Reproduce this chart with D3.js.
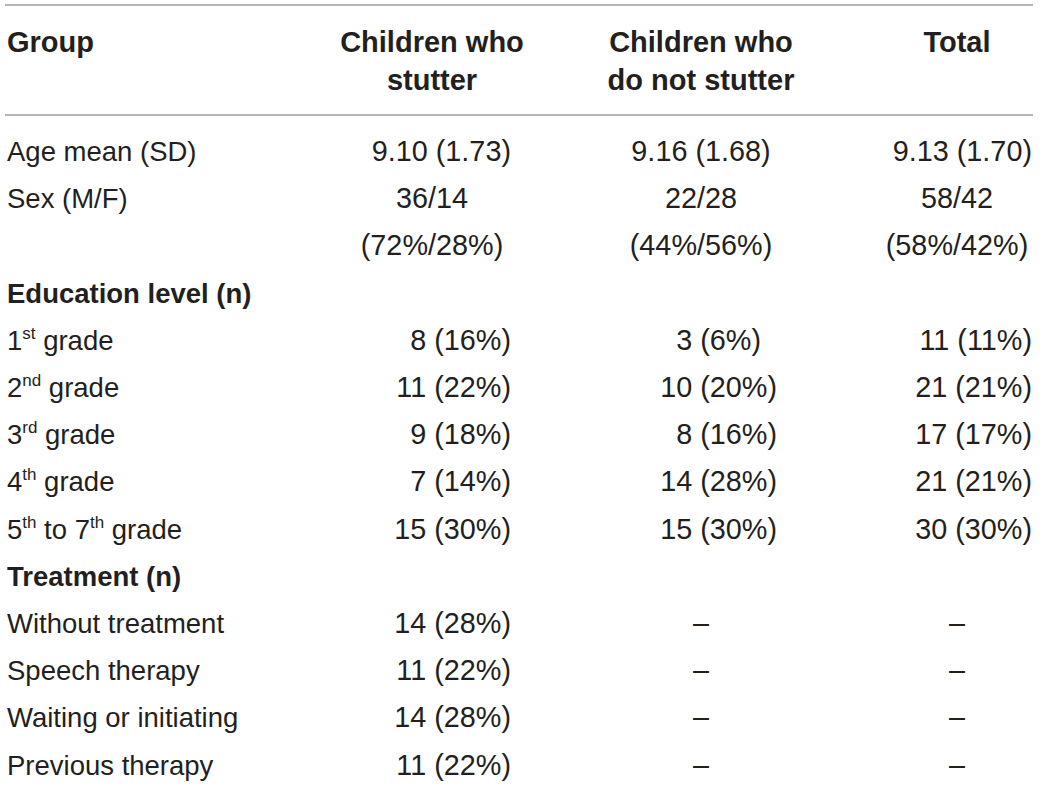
<!DOCTYPE html>
<html>
<head>
<meta charset="utf-8">
<script src="https://cdn.jsdelivr.net/npm/d3@7/dist/d3.min.js"></script>
<style>
  html, body { margin: 0; padding: 0; background: #fff; }
  svg { display: block; }
  text { font-family: "Liberation Sans", Arial, Helvetica, sans-serif; fill: #231f20; }
</style>
</head>
<body>
<svg id="chart" width="1040" height="789"></svg>
<script>
// ---- data ----
const headers = [["Group"], ["Children who", "stutter"], ["Children who", "do not stutter"], ["Total"]];
const rowLabels = [
  "Age mean (SD)", "Sex (M/F)", "", "Education level (n)",
  "1^st^ grade", "2^nd^ grade", "3^rd^ grade", "4^th^ grade", "5^th^ to 7^th^ grade",
  "Treatment (n)", "Without treatment", "Speech therapy", "Waiting or initiating", "Previous therapy"
];
const rowGroups = ["age", "sex", "sex", "section", "edu", "edu", "edu", "edu", "edu", "section", "treat", "treat", "treat", "treat"];
const stutter = ["9.10 (1.73)", "36/14", "(72%/28%)", "", "8 (16%)", "11 (22%)", "9 (18%)", "7 (14%)", "15 (30%)", "", "14 (28%)", "11 (22%)", "14 (28%)", "11 (22%)"];
const nonStutter = ["9.16 (1.68)", "22/28", "(44%/56%)", "", "3 (6%)", "10 (20%)", "8 (16%)", "14 (28%)", "15 (30%)", "", "–", "–", "–", "–"];
const total = ["9.13 (1.70)", "58/42", "(58%/42%)", "", "11 (11%)", "21 (21%)", "17 (17%)", "21 (21%)", "30 (30%)", "", "–", "–", "–", "–"];

// ---- layout ----
const svg = d3.select("#chart");
const lineX0 = 5, lineX1 = 1033;
const labelSize = 27.5, numSize = 28.8, boldSize = 29;

const y = d3.scalePoint().domain(d3.range(rowLabels.length)).range([161, 774.6]);
const colCenter = [7, 432, 701, 957];
const colRight = [0, 511, 777, 1032];

// measure digit width for figure alignment
const probe = svg.append("text").attr("font-size", numSize).text("0");
const digitW = probe.node().getComputedTextLength();
probe.remove();

// rules
[5, 115].forEach(yy => {
  svg.append("line").attr("x1", lineX0).attr("x2", lineX1).attr("y1", yy).attr("y2", yy)
    .attr("stroke", "#9d9d9d").attr("stroke-width", 1.3);
});

// header
headers.forEach((lines, ci) => {
  lines.forEach((ln, li) => {
    svg.append("text")
      .attr("x", colCenter[ci])
      .attr("y", 52 + li * 38)
      .attr("text-anchor", ci === 0 ? "start" : "middle")
      .attr("font-size", boldSize)
      .attr("font-weight", "bold")
      .text(ln);
  });
});

// row labels with superscripts
rowLabels.forEach((lab, i) => {
  if (!lab) return;
  const isSection = rowGroups[i] === "section";
  const t = svg.append("text")
    .attr("x", 7).attr("y", y(i))
    .attr("font-size", isSection ? boldSize : labelSize)
    .attr("font-weight", isSection ? "bold" : "normal");
  const parts = lab.split("^");
  parts.forEach((p, k) => {
    if (!p) return;
    const sup = k % 2 === 1;
    t.append("tspan")
      .attr("font-size", sup ? 17 : labelSize)
      .attr("dy", sup ? -11 : (k > 0 ? 11 : 0))
      .text(p);
  });
});

function alignFor(col, group) {
  if (col === 1) return group === "sex" ? "middle" : "end";
  if (col === 2) return group === "edu" ? "end" : "middle";
  if (col === 3) return (group === "sex" || group === "treat") ? "middle" : "end";
  return "start";
}

[stutter, nonStutter, total].forEach((vals, k) => {
  const col = k + 1;
  vals.forEach((v, i) => {
    if (!v) return;
    const a = alignFor(col, rowGroups[i]);
    let x = a === "end" ? colRight[col] : colCenter[col];
    if (a === "end" && /\(\d%\)/.test(v)) x -= digitW;
    svg.append("text")
      .attr("x", x)
      .attr("y", y(i))
      .attr("text-anchor", a)
      .attr("font-size", numSize)
      .text(v);
  });
});
</script>
</body>
</html>
